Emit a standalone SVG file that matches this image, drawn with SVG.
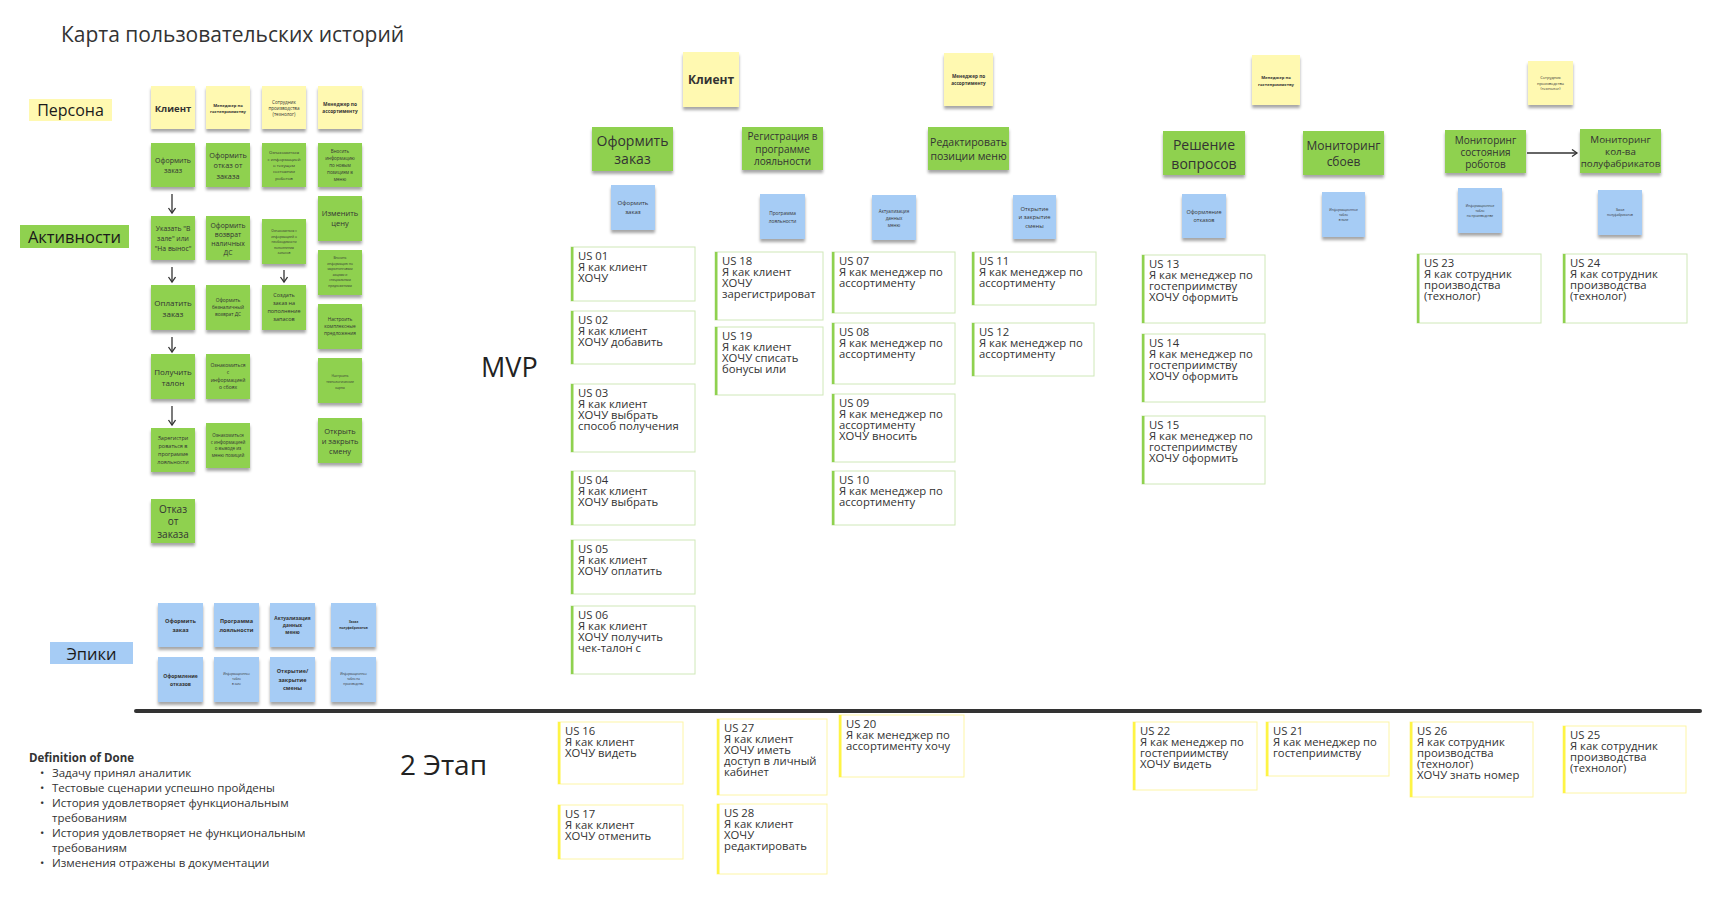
<svg xmlns="http://www.w3.org/2000/svg" width="1722" height="906" viewBox="0 0 1722 906">
<style>
.sy{fill:#fff9b1;filter:url(#sh)}
.sg{fill:#8fd14f;filter:url(#sh)}
.sb{fill:#a6ccf5;filter:url(#sh)}
.t{font-family:"Open Sans","Noto Sans","DejaVu Sans",sans-serif;fill:#333;text-anchor:middle;dominant-baseline:central}
.b{font-weight:700}
.lbl{font-family:"Open Sans","Noto Sans",sans-serif;fill:#1a1a1a;text-anchor:middle;dominant-baseline:central}
.cb{fill:#fff;stroke:#cfe8b8;stroke-width:1}
.bar{fill:#8fd14f}
.c2 .cb{stroke:#fdf5a6}
.c2 .bar{fill:#fef445}
.ct{font-family:"Open Sans","Noto Sans",sans-serif;font-size:11.3px;fill:#333}
.cn{stroke:#333;stroke-width:1.3;fill:none;marker-end:url(#ah)}
.dod{font-family:"Open Sans","Noto Sans",sans-serif;font-size:11.5px;fill:#333}
</style>
<defs>
<filter id="sh" x="-20%" y="-20%" width="140%" height="150%">
<feDropShadow dx="0" dy="3" stdDeviation="1.7" flood-color="#000" flood-opacity="0.35"/>
</filter>
<marker id="ah" markerUnits="userSpaceOnUse" markerWidth="10" markerHeight="10" refX="6" refY="4" orient="auto">
<path d="M1,0.5 L6,4 L1,7.5" fill="none" stroke="#333" stroke-width="1.3"/>
</marker>
</defs>
<rect width="1722" height="906" fill="#fff"/>

<text x="61" y="42" font-family="Open Sans, Noto Sans, sans-serif" font-size="21" fill="#333">Карта пользовательских историй</text>

<g id="label-persona"><rect x="29" y="99" width="83" height="22" fill="#fff9b1"/><text class="lbl" x="70.5" y="110" font-size="16">Персона</text></g>
<g id="label-activities"><rect x="20" y="225" width="109" height="23" fill="#8fd14f"/><text class="lbl" x="74.5" y="236.5" font-size="16.5">Активности</text></g>
<g id="label-epics"><rect x="50" y="642" width="83" height="22" fill="#a6ccf5"/><text class="lbl" x="91.5" y="653" font-size="16.5">Эпики</text></g>

<!-- left panel personas -->
<g id="lp-client"><rect class="sy" x="151" y="86" width="44" height="43"/><text class="t b" font-size="9.5"><tspan x="173" y="107.5">Клиент</tspan></text></g>
<g id="lp-hosp"><rect class="sy" x="206" y="86" width="44" height="43"/><text class="t b" font-size="4.2"><tspan x="228" y="105">Менеджер по</tspan><tspan x="228" y="111">гостеприимству</tspan></text></g>
<g id="lp-tech"><rect class="sy" x="262" y="86" width="44" height="43"/><text class="t" font-size="4.6" fill="#555"><tspan x="284" y="101.7">Сотрудник</tspan><tspan x="284" y="108">производства</tspan><tspan x="284" y="114.3">(технолог)</tspan></text></g>
<g id="lp-assort"><rect class="sy" x="318" y="86" width="44" height="43"/><text class="t b" font-size="4.8"><tspan x="340" y="104">Менеджер по</tspan><tspan x="340" y="110.5">ассортименту</tspan></text></g>

<!-- left panel activities col 1 -->
<g id="la-c1-1"><rect class="sg" x="151" y="143" width="44" height="44"/><text class="t" font-size="7"><tspan x="173" y="159.75">Оформить</tspan><tspan x="173" y="170.25">заказ</tspan></text></g>
<g id="la-c1-2"><rect class="sg" x="151" y="216" width="44" height="44"/><text class="t" font-size="6.8"><tspan x="173" y="228">Указать "В</tspan><tspan x="173" y="238">зале" или</tspan><tspan x="173" y="248">"На вынос"</tspan></text></g>
<g id="la-c1-3"><rect class="sg" x="151" y="285" width="44" height="45"/><text class="t" font-size="8"><tspan x="173" y="301.5">Оплатить</tspan><tspan x="173" y="312.5">заказ</tspan></text></g>
<g id="la-c1-4"><rect class="sg" x="151" y="354" width="44" height="45"/><text class="t" font-size="8"><tspan x="173" y="370.5">Получить</tspan><tspan x="173" y="381.5">талон</tspan></text></g>
<g id="la-c1-5"><rect class="sg" x="151" y="428" width="44" height="44"/><text class="t" font-size="5.5"><tspan x="173" y="438">Зарегистри</tspan><tspan x="173" y="446">роваться в</tspan><tspan x="173" y="454">программе</tspan><tspan x="173" y="462">лояльности</tspan></text></g>
<g id="la-c1-6"><rect class="sg" x="151" y="499" width="44" height="44"/><text class="t" font-size="10" fill="#222"><tspan x="173" y="508.5">Отказ</tspan><tspan x="173" y="521">от</tspan><tspan x="173" y="533.5">заказа</tspan></text></g>

<!-- col 2 -->
<g id="la-c2-1"><rect class="sg" x="206" y="143" width="44" height="44"/><text class="t" font-size="7.3"><tspan x="228" y="154.5">Оформить</tspan><tspan x="228" y="165">отказ от</tspan><tspan x="228" y="175.5">заказа</tspan></text></g>
<g id="la-c2-2"><rect class="sg" x="206" y="216" width="44" height="44"/><text class="t" font-size="6.8"><tspan x="228" y="224.5">Оформить</tspan><tspan x="228" y="233.5">возврат</tspan><tspan x="228" y="242.5">наличных</tspan><tspan x="228" y="251.5">ДС</tspan></text></g>
<g id="la-c2-3"><rect class="sg" x="206" y="285" width="44" height="45"/><text class="t" font-size="4.8"><tspan x="228" y="300">Оформить</tspan><tspan x="228" y="307">безналичный</tspan><tspan x="228" y="314">возврат ДС</tspan></text></g>
<g id="la-c2-4"><rect class="sg" x="206" y="354" width="44" height="45"/><text class="t" font-size="5"><tspan x="228" y="364.75">Ознакомиться</tspan><tspan x="228" y="372.25">с</tspan><tspan x="228" y="379.75">информацией</tspan><tspan x="228" y="387.25">о сбоях</tspan></text></g>
<g id="la-c2-5"><rect class="sg" x="206" y="423" width="44" height="45"/><text class="t" font-size="4.5"><tspan x="228" y="435.25">Ознакомиться</tspan><tspan x="228" y="441.75">с информацией</tspan><tspan x="228" y="448.25">о выводе из</tspan><tspan x="228" y="454.75">меню позиций</tspan></text></g>

<!-- col 3 -->
<g id="la-c3-1"><rect class="sg" x="262" y="143" width="44" height="44"/><text class="t" font-size="4.3"><tspan x="284" y="152.4">Ознакомиться</tspan><tspan x="284" y="158.7">с информацией</tspan><tspan x="284" y="165">о текущем</tspan><tspan x="284" y="171.3">состоянии</tspan><tspan x="284" y="177.6">роботов</tspan></text></g>
<g id="la-c3-2"><rect class="sg" x="262" y="219" width="44" height="45"/><text class="t" font-size="3.3"><tspan x="284" y="230">Ознакомиться с</tspan><tspan x="284" y="235.5">информацией о</tspan><tspan x="284" y="241">необходимости</tspan><tspan x="284" y="246.5">пополнения</tspan><tspan x="284" y="252">запасов</tspan></text></g>
<g id="la-c3-3"><rect class="sg" x="262" y="285" width="44" height="45"/><text class="t" font-size="5.5"><tspan x="284" y="295">Создать</tspan><tspan x="284" y="303">заказ на</tspan><tspan x="284" y="311">пополнение</tspan><tspan x="284" y="319">запасов</tspan></text></g>

<!-- col 4 -->
<g id="la-c4-1"><rect class="sg" x="318" y="143" width="44" height="44"/><text class="t" font-size="4.5"><tspan x="340" y="151.4">Вносить</tspan><tspan x="340" y="158.2">информацию</tspan><tspan x="340" y="165">по новым</tspan><tspan x="340" y="171.8">позициям в</tspan><tspan x="340" y="178.6">меню</tspan></text></g>
<g id="la-c4-2"><rect class="sg" x="318" y="196" width="44" height="45"/><text class="t" font-size="7.5"><tspan x="340" y="212.75">Изменить</tspan><tspan x="340" y="223.25">цену</tspan></text></g>
<g id="la-c4-3"><rect class="sg" x="318" y="250" width="44" height="45"/><text class="t" font-size="3.2"><tspan x="340" y="258">Вносить</tspan><tspan x="340" y="263.6">информацию по</tspan><tspan x="340" y="269.2">маркетинговым</tspan><tspan x="340" y="274.8">акциям и</tspan><tspan x="340" y="280.4">специальным</tspan><tspan x="340" y="286">предложениям</tspan></text></g>
<g id="la-c4-4"><rect class="sg" x="318" y="304" width="44" height="45"/><text class="t" font-size="4.8"><tspan x="340" y="319">Настроить</tspan><tspan x="340" y="326">комплексные</tspan><tspan x="340" y="333">предложения</tspan></text></g>
<g id="la-c4-5"><rect class="sg" x="318" y="358" width="44" height="45"/><text class="t" font-size="3.3"><tspan x="340" y="374.5">Настроить</tspan><tspan x="340" y="380.5">технологические</tspan><tspan x="340" y="386.5">карты</tspan></text></g>
<g id="la-c4-6"><rect class="sg" x="318" y="418" width="44" height="45"/><text class="t" font-size="7.5"><tspan x="340" y="430.5">Открыть</tspan><tspan x="340" y="440.5">и закрыть</tspan><tspan x="340" y="450.5">смену</tspan></text></g>

<!-- left epics -->
<g id="le-1"><rect class="sb" x="158" y="603" width="45" height="44"/><text class="t b" font-size="5.5"><tspan x="180.5" y="621">Оформить</tspan><tspan x="180.5" y="629.5">заказ</tspan></text></g>
<g id="le-2"><rect class="sb" x="214" y="603" width="45" height="44"/><text class="t b" font-size="5.5"><tspan x="236.5" y="621">Программа</tspan><tspan x="236.5" y="629.5">лояльности</tspan></text></g>
<g id="le-3"><rect class="sb" x="270" y="603" width="45" height="44"/><text class="t b" font-size="4.8"><tspan x="292.5" y="618">Актуализация</tspan><tspan x="292.5" y="625">данных</tspan><tspan x="292.5" y="632">меню</tspan></text></g>
<g id="le-4"><rect class="sb" x="331" y="603" width="45" height="44"/><text class="t b" font-size="3.2"><tspan x="353.5" y="622">Заказ</tspan><tspan x="353.5" y="628">полуфабрикатов</tspan></text></g>
<g id="le-5"><rect class="sb" x="158" y="657" width="45" height="45"/><text class="t b" font-size="5"><tspan x="180.5" y="675.5">Оформление</tspan><tspan x="180.5" y="683.5">отказов</tspan></text></g>
<g id="le-6"><rect class="sb" x="214" y="657" width="45" height="45"/><text class="t" font-size="3"><tspan x="236.5" y="674">Информационное</tspan><tspan x="236.5" y="679">табло</tspan><tspan x="236.5" y="684">в зале</tspan></text></g>
<g id="le-7"><rect class="sb" x="270" y="657" width="45" height="45"/><text class="t b" font-size="5.5"><tspan x="292.5" y="671">Открытие/</tspan><tspan x="292.5" y="679.5">закрытие</tspan><tspan x="292.5" y="688">смены</tspan></text></g>
<g id="le-8"><rect class="sb" x="331" y="657" width="45" height="45"/><text class="t" font-size="3"><tspan x="353.5" y="674">Информационное</tspan><tspan x="353.5" y="679">табло на</tspan><tspan x="353.5" y="684">производстве</tspan></text></g>

<!-- stage labels -->
<text x="481" y="377" font-family="Open Sans, Noto Sans, sans-serif" font-size="27" fill="#222">MVP</text>
<text x="400" y="775" font-family="Open Sans, Noto Sans, sans-serif" font-size="28" fill="#222">2 Этап</text>

<!-- top personas -->
<g id="tp-client"><rect class="sy" x="683" y="52" width="56" height="55"/><text class="t b" font-size="12"><tspan x="711" y="79">Клиент</tspan></text></g>
<g id="tp-assort"><rect class="sy" x="944" y="53" width="49" height="53"/><text class="t b" font-size="4.7"><tspan x="968.5" y="76">Менеджер по</tspan><tspan x="968.5" y="83">ассортименту</tspan></text></g>
<g id="tp-hosp"><rect class="sy" x="1252" y="55" width="48" height="50"/><text class="t b" font-size="4.2"><tspan x="1276" y="76.5">Менеджер по</tspan><tspan x="1276" y="83.5">гостеприимству</tspan></text></g>
<g id="tp-tech"><rect class="sy" x="1528" y="61" width="45" height="44"/><text class="t" font-size="4"><tspan x="1550.5" y="77">Сотрудник</tspan><tspan x="1550.5" y="82.5">производства</tspan><tspan x="1550.5" y="88">(технолог)</tspan></text></g>

<!-- top activities -->
<g id="ta-order"><rect class="sg" x="592" y="127" width="81" height="44"/><text class="t" font-size="14"><tspan x="632.5" y="140.25">Оформить</tspan><tspan x="632.5" y="157.75">заказ</tspan></text></g>
<g id="ta-loyal"><rect class="sg" x="742" y="127" width="81" height="43"/><text class="t" font-size="10"><tspan x="782.5" y="136">Регистрация в</tspan><tspan x="782.5" y="148.5">программе</tspan><tspan x="782.5" y="161">лояльности</tspan></text></g>
<g id="ta-menu"><rect class="sg" x="928" y="127" width="81" height="43"/><text class="t" font-size="10.5"><tspan x="968.5" y="141.5">Редактировать</tspan><tspan x="968.5" y="155.5">позиции меню</tspan></text></g>
<g id="ta-issues"><rect class="sg" x="1163" y="131" width="82" height="44"/><text class="t" font-size="14"><tspan x="1204" y="143.5">Решение</tspan><tspan x="1204" y="162.5">вопросов</tspan></text></g>
<g id="ta-fail"><rect class="sg" x="1303" y="131" width="81" height="44"/><text class="t" font-size="12"><tspan x="1343.5" y="145">Мониторинг</tspan><tspan x="1343.5" y="161">сбоев</tspan></text></g>
<g id="ta-robots"><rect class="sg" x="1445" y="130" width="81" height="43"/><text class="t" font-size="10"><tspan x="1485.5" y="139.5">Мониторинг</tspan><tspan x="1485.5" y="151.5">состояния</tspan><tspan x="1485.5" y="163.5">роботов</tspan></text></g>
<g id="ta-semi"><rect class="sg" x="1580" y="129" width="81" height="44"/><text class="t" font-size="9.8"><tspan x="1620.5" y="139">Мониторинг</tspan><tspan x="1620.5" y="151">кол-ва</tspan><tspan x="1620.5" y="163">полуфабрикатов</tspan></text></g>

<!-- top epics -->
<g id="te-order"><rect class="sb" x="611" y="185" width="44" height="45"/><text class="t" font-size="6"><tspan x="633" y="203">Оформить</tspan><tspan x="633" y="212">заказ</tspan></text></g>
<g id="te-loyal"><rect class="sb" x="760" y="194" width="45" height="45"/><text class="t" font-size="4.8"><tspan x="782.5" y="212.5">Программа</tspan><tspan x="782.5" y="220.5">лояльности</tspan></text></g>
<g id="te-menu"><rect class="sb" x="872" y="195" width="44" height="45"/><text class="t" font-size="4.5"><tspan x="894" y="210.5">Актуализация</tspan><tspan x="894" y="217.5">данных</tspan><tspan x="894" y="224.5">меню</tspan></text></g>
<g id="te-shift"><rect class="sb" x="1013" y="195" width="43" height="44"/><text class="t" font-size="5.8"><tspan x="1034.5" y="208.5">Открытие</tspan><tspan x="1034.5" y="217">и закрытие</tspan><tspan x="1034.5" y="225.5">смены</tspan></text></g>
<g id="te-refuse"><rect class="sb" x="1182" y="194" width="44" height="44"/><text class="t" font-size="5.5"><tspan x="1204" y="211.75">Оформление</tspan><tspan x="1204" y="220.25">отказов</tspan></text></g>
<g id="te-hall"><rect class="sb" x="1322" y="192" width="43" height="45"/><text class="t" font-size="3.2"><tspan x="1343.5" y="209.5">Информационное</tspan><tspan x="1343.5" y="214.5">табло</tspan><tspan x="1343.5" y="219.5">в зале</tspan></text></g>
<g id="te-prod"><rect class="sb" x="1458" y="188" width="44" height="45"/><text class="t" font-size="3.2"><tspan x="1480" y="205.5">Информационное</tspan><tspan x="1480" y="210.5">табло</tspan><tspan x="1480" y="215.5">на производстве</tspan></text></g>
<g id="te-semi"><rect class="sb" x="1598" y="190" width="44" height="45"/><text class="t" font-size="3.2"><tspan x="1620" y="210">Заказ</tspan><tspan x="1620" y="215">полуфабрикатов</tspan></text></g>

<!-- MVP story cards -->
<g id="us01" class="card"><rect class="cb" x="571" y="247" width="124" height="54"/><rect class="bar" x="571" y="247" width="2.5" height="54"/><text class="ct"><tspan x="578" y="259.5">US 01</tspan><tspan x="578" dy="11.2">Я как клиент</tspan><tspan x="578" dy="11.2">ХОЧУ</tspan></text></g>
<g id="us02" class="card"><rect class="cb" x="571" y="311" width="124" height="53"/><rect class="bar" x="571" y="311" width="2.5" height="53"/><text class="ct"><tspan x="578" y="323.5">US 02</tspan><tspan x="578" dy="11.2">Я как клиент</tspan><tspan x="578" dy="11.2">ХОЧУ добавить</tspan></text></g>
<g id="us03" class="card"><rect class="cb" x="571" y="384" width="124" height="68"/><rect class="bar" x="571" y="384" width="2.5" height="68"/><text class="ct"><tspan x="578" y="396.5">US 03</tspan><tspan x="578" dy="11.2">Я как клиент</tspan><tspan x="578" dy="11.2">ХОЧУ выбрать</tspan><tspan x="578" dy="11.2">способ получения</tspan></text></g>
<g id="us04" class="card"><rect class="cb" x="571" y="471" width="124" height="54"/><rect class="bar" x="571" y="471" width="2.5" height="54"/><text class="ct"><tspan x="578" y="483.5">US 04</tspan><tspan x="578" dy="11.2">Я как клиент</tspan><tspan x="578" dy="11.2">ХОЧУ выбрать</tspan></text></g>
<g id="us05" class="card"><rect class="cb" x="571" y="540" width="124" height="54"/><rect class="bar" x="571" y="540" width="2.5" height="54"/><text class="ct"><tspan x="578" y="552.5">US 05</tspan><tspan x="578" dy="11.2">Я как клиент</tspan><tspan x="578" dy="11.2">ХОЧУ оплатить</tspan></text></g>
<g id="us06" class="card"><rect class="cb" x="571" y="606" width="124" height="68"/><rect class="bar" x="571" y="606" width="2.5" height="68"/><text class="ct"><tspan x="578" y="618.5">US 06</tspan><tspan x="578" dy="11.2">Я как клиент</tspan><tspan x="578" dy="11.2">ХОЧУ получить</tspan><tspan x="578" dy="11.2">чек-талон с</tspan></text></g>
<g id="us18" class="card"><rect class="cb" x="715" y="252" width="108" height="68"/><rect class="bar" x="715" y="252" width="2.5" height="68"/><text class="ct"><tspan x="722" y="264.5">US 18</tspan><tspan x="722" dy="11.2">Я как клиент</tspan><tspan x="722" dy="11.2">ХОЧУ</tspan><tspan x="722" dy="11.2">зарегистрироват</tspan></text></g>
<g id="us19" class="card"><rect class="cb" x="715" y="327" width="108" height="68"/><rect class="bar" x="715" y="327" width="2.5" height="68"/><text class="ct"><tspan x="722" y="339.5">US 19</tspan><tspan x="722" dy="11.2">Я как клиент</tspan><tspan x="722" dy="11.2">ХОЧУ списать</tspan><tspan x="722" dy="11.2">бонусы или</tspan></text></g>
<g id="us07" class="card"><rect class="cb" x="832" y="252" width="123" height="61"/><rect class="bar" x="832" y="252" width="2.5" height="61"/><text class="ct"><tspan x="839" y="264.5">US 07</tspan><tspan x="839" dy="11.2">Я как менеджер по</tspan><tspan x="839" dy="11.2">ассортименту</tspan></text></g>
<g id="us08" class="card"><rect class="cb" x="832" y="323" width="123" height="61"/><rect class="bar" x="832" y="323" width="2.5" height="61"/><text class="ct"><tspan x="839" y="335.5">US 08</tspan><tspan x="839" dy="11.2">Я как менеджер по</tspan><tspan x="839" dy="11.2">ассортименту</tspan></text></g>
<g id="us09" class="card"><rect class="cb" x="832" y="394" width="123" height="68"/><rect class="bar" x="832" y="394" width="2.5" height="68"/><text class="ct"><tspan x="839" y="406.5">US 09</tspan><tspan x="839" dy="11.2">Я как менеджер по</tspan><tspan x="839" dy="11.2">ассортименту</tspan><tspan x="839" dy="11.2">ХОЧУ вносить</tspan></text></g>
<g id="us10" class="card"><rect class="cb" x="832" y="471" width="123" height="54"/><rect class="bar" x="832" y="471" width="2.5" height="54"/><text class="ct"><tspan x="839" y="483.5">US 10</tspan><tspan x="839" dy="11.2">Я как менеджер по</tspan><tspan x="839" dy="11.2">ассортименту</tspan></text></g>
<g id="us11" class="card"><rect class="cb" x="972" y="252" width="124" height="53"/><rect class="bar" x="972" y="252" width="2.5" height="53"/><text class="ct"><tspan x="979" y="264.5">US 11</tspan><tspan x="979" dy="11.2">Я как менеджер по</tspan><tspan x="979" dy="11.2">ассортименту</tspan></text></g>
<g id="us12" class="card"><rect class="cb" x="972" y="323" width="122" height="53"/><rect class="bar" x="972" y="323" width="2.5" height="53"/><text class="ct"><tspan x="979" y="335.5">US 12</tspan><tspan x="979" dy="11.2">Я как менеджер по</tspan><tspan x="979" dy="11.2">ассортименту</tspan></text></g>
<g id="us13" class="card"><rect class="cb" x="1142" y="255" width="123" height="68"/><rect class="bar" x="1142" y="255" width="2.5" height="68"/><text class="ct"><tspan x="1149" y="267.5">US 13</tspan><tspan x="1149" dy="11.2">Я как менеджер по</tspan><tspan x="1149" dy="11.2">гостеприимству</tspan><tspan x="1149" dy="11.2">ХОЧУ оформить</tspan></text></g>
<g id="us14" class="card"><rect class="cb" x="1142" y="334" width="123" height="68"/><rect class="bar" x="1142" y="334" width="2.5" height="68"/><text class="ct"><tspan x="1149" y="346.5">US 14</tspan><tspan x="1149" dy="11.2">Я как менеджер по</tspan><tspan x="1149" dy="11.2">гостеприимству</tspan><tspan x="1149" dy="11.2">ХОЧУ оформить</tspan></text></g>
<g id="us15" class="card"><rect class="cb" x="1142" y="416" width="123" height="68"/><rect class="bar" x="1142" y="416" width="2.5" height="68"/><text class="ct"><tspan x="1149" y="428.5">US 15</tspan><tspan x="1149" dy="11.2">Я как менеджер по</tspan><tspan x="1149" dy="11.2">гостеприимству</tspan><tspan x="1149" dy="11.2">ХОЧУ оформить</tspan></text></g>
<g id="us23" class="card"><rect class="cb" x="1417" y="254" width="124" height="69"/><rect class="bar" x="1417" y="254" width="2.5" height="69"/><text class="ct"><tspan x="1424" y="266.5">US 23</tspan><tspan x="1424" dy="11.2">Я как сотрудник</tspan><tspan x="1424" dy="11.2">производства</tspan><tspan x="1424" dy="11.2">(технолог)</tspan></text></g>
<g id="us24" class="card"><rect class="cb" x="1563" y="254" width="124" height="69"/><rect class="bar" x="1563" y="254" width="2.5" height="69"/><text class="ct"><tspan x="1570" y="266.5">US 24</tspan><tspan x="1570" dy="11.2">Я как сотрудник</tspan><tspan x="1570" dy="11.2">производства</tspan><tspan x="1570" dy="11.2">(технолог)</tspan></text></g>

<!-- divider -->
<line id="divider" x1="136" y1="711" x2="1700" y2="711" stroke="#333" stroke-width="4" stroke-linecap="round"/>

<!-- stage 2 cards -->
<g id="us16" class="card c2"><rect class="cb" x="558" y="722" width="125" height="62"/><rect class="bar" x="558" y="722" width="2.5" height="62"/><text class="ct"><tspan x="565" y="734.5">US 16</tspan><tspan x="565" dy="11.2">Я как клиент</tspan><tspan x="565" dy="11.2">ХОЧУ видеть</tspan></text></g>
<g id="us17" class="card c2"><rect class="cb" x="558" y="805" width="125" height="54"/><rect class="bar" x="558" y="805" width="2.5" height="54"/><text class="ct"><tspan x="565" y="817.5">US 17</tspan><tspan x="565" dy="11.2">Я как клиент</tspan><tspan x="565" dy="11.2">ХОЧУ отменить</tspan></text></g>
<g id="us27" class="card c2"><rect class="cb" x="717" y="719" width="110" height="76"/><rect class="bar" x="717" y="719" width="2.5" height="76"/><text class="ct"><tspan x="724" y="731.5">US 27</tspan><tspan x="724" dy="11.2">Я как клиент</tspan><tspan x="724" dy="11.2">ХОЧУ иметь</tspan><tspan x="724" dy="11.2">доступ в личный</tspan><tspan x="724" dy="11.2">кабинет</tspan></text></g>
<g id="us28" class="card c2"><rect class="cb" x="717" y="804" width="110" height="70"/><rect class="bar" x="717" y="804" width="2.5" height="70"/><text class="ct"><tspan x="724" y="816.5">US 28</tspan><tspan x="724" dy="11.2">Я как клиент</tspan><tspan x="724" dy="11.2">ХОЧУ</tspan><tspan x="724" dy="11.2">редактировать</tspan></text></g>
<g id="us20" class="card c2"><rect class="cb" x="839" y="715" width="125" height="62"/><rect class="bar" x="839" y="715" width="2.5" height="62"/><text class="ct"><tspan x="846" y="727.5">US 20</tspan><tspan x="846" dy="11.2">Я как менеджер по</tspan><tspan x="846" dy="11.2">ассортименту хочу</tspan></text></g>
<g id="us22" class="card c2"><rect class="cb" x="1133" y="722" width="124" height="68"/><rect class="bar" x="1133" y="722" width="2.5" height="68"/><text class="ct"><tspan x="1140" y="734.5">US 22</tspan><tspan x="1140" dy="11.2">Я как менеджер по</tspan><tspan x="1140" dy="11.2">гостеприимству</tspan><tspan x="1140" dy="11.2">ХОЧУ видеть</tspan></text></g>
<g id="us21" class="card c2"><rect class="cb" x="1266" y="722" width="123" height="54"/><rect class="bar" x="1266" y="722" width="2.5" height="54"/><text class="ct"><tspan x="1273" y="734.5">US 21</tspan><tspan x="1273" dy="11.2">Я как менеджер по</tspan><tspan x="1273" dy="11.2">гостеприимству</tspan></text></g>
<g id="us26" class="card c2"><rect class="cb" x="1410" y="722" width="123" height="75"/><rect class="bar" x="1410" y="722" width="2.5" height="75"/><text class="ct"><tspan x="1417" y="734.5">US 26</tspan><tspan x="1417" dy="11.2">Я как сотрудник</tspan><tspan x="1417" dy="11.2">производства</tspan><tspan x="1417" dy="11.2">(технолог)</tspan><tspan x="1417" dy="11.2">ХОЧУ знать номер</tspan></text></g>
<g id="us25" class="card c2"><rect class="cb" x="1563" y="726" width="123" height="67"/><rect class="bar" x="1563" y="726" width="2.5" height="67"/><text class="ct"><tspan x="1570" y="738.5">US 25</tspan><tspan x="1570" dy="11.2">Я как сотрудник</tspan><tspan x="1570" dy="11.2">производства</tspan><tspan x="1570" dy="11.2">(технолог)</tspan></text></g>

<!-- Definition of Done -->
<g id="dod">
<text class="dod" x="29" y="762" font-weight="700">Definition of Done</text>
<text class="dod"><tspan x="40" y="777">•</tspan><tspan x="40" y="792">•</tspan><tspan x="40" y="807">•</tspan><tspan x="40" y="837">•</tspan><tspan x="40" y="867">•</tspan></text>
<text class="dod"><tspan x="52" y="777">Задачу принял аналитик</tspan><tspan x="52" y="792">Тестовые сценарии успешно пройдены</tspan><tspan x="52" y="807">История удовлетворяет функциональным</tspan><tspan x="52" y="822">требованиям</tspan><tspan x="52" y="837">История удовлетворяет не функциональным</tspan><tspan x="52" y="852">требованиям</tspan><tspan x="52" y="867">Изменения отражены в документации</tspan></text>
</g>

<!-- connectors -->
<g id="connectors">
<line class="cn" x1="172" y1="194" x2="172" y2="213"/>
<line class="cn" x1="172" y1="267" x2="172" y2="282"/>
<line class="cn" x1="172" y1="337" x2="172" y2="352"/>
<line class="cn" x1="172" y1="406" x2="172" y2="425"/>
<line class="cn" x1="284" y1="270" x2="284" y2="282"/>
<line class="cn" x1="1527" y1="153" x2="1577" y2="153"/>
</g>
</svg>
